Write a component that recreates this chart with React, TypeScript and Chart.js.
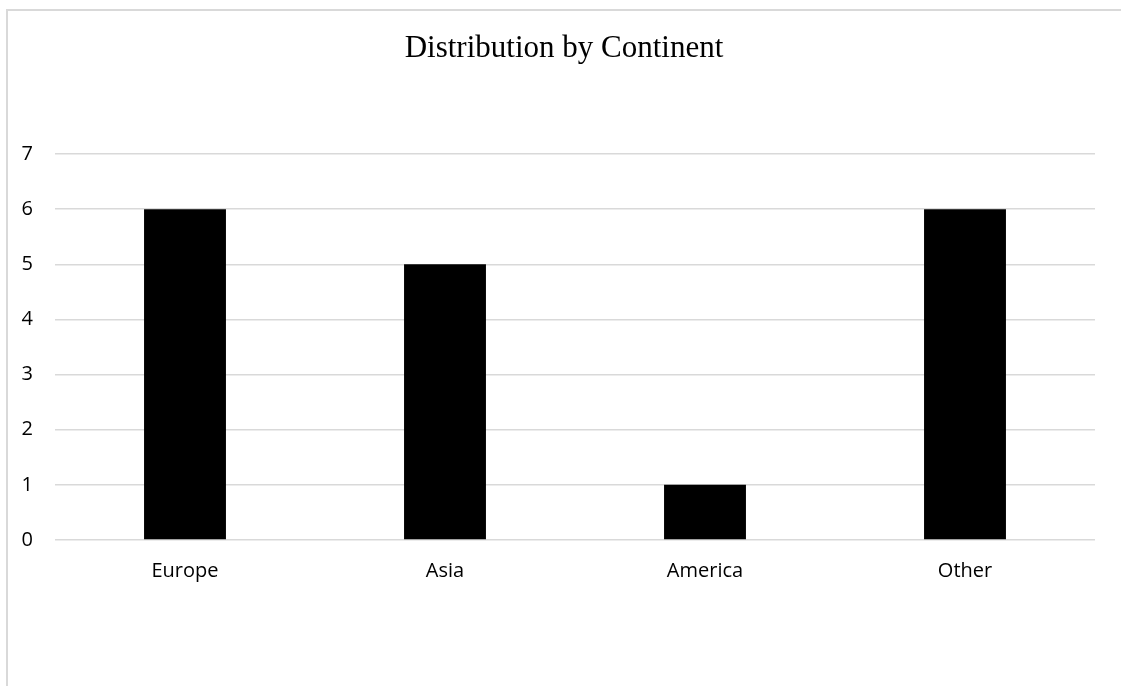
import React, { useEffect, useRef } from "react";
import { Chart, registerables } from "chart.js";

Chart.register(...registerables);

const categories = ["Europe", "Asia", "America", "Other"];
const counts = [6, 5, 1, 6];
const yTicks = [0, 1, 2, 3, 4, 5, 6, 7];
const titleText = "Distribution by Continent";

export default function App() {
  const ref = useRef<HTMLCanvasElement | null>(null);

  useEffect(() => {
    if (!ref.current) return;
    const chart = new Chart(ref.current, {
      type: "bar",
      data: {
        labels: categories,
        datasets: [
          {
            data: counts,
            backgroundColor: "#000000",
            borderWidth: 0,
            barPercentage: 0.315,
            categoryPercentage: 1,
          },
        ],
      },
      options: {
        animation: false,
        responsive: false,
        maintainAspectRatio: false,
        layout: { padding: { left: 7, right: 0, top: 0, bottom: 0 } },
        plugins: {
          legend: { display: false },
          tooltip: { enabled: false },
          title: {
            display: true,
            text: titleText,
            color: "#000000",
            font: { family: "'Liberation Serif', 'Times New Roman', serif", size: 31, weight: "normal" },
            padding: { top: 30, bottom: 86.8 },
          },
        },
        scales: {
          x: {
            grid: { display: false, drawTicks: false },
            border: { display: false },
            ticks: {
              color: "#000000",
              padding: 19,
              font: { family: "'Open Sans', sans-serif", size: 20 },
            },
            afterFit: (s: any) => {
              s.height = 146;
            },
          },
          y: {
            min: 0,
            max: 7,
            afterBuildTicks: (s: any) => {
              s.ticks = yTicks.map((v) => ({ value: v }));
            },
            grid: { color: "#d9d9d9", lineWidth: 1.5, drawTicks: false },
            border: { display: false },
            ticks: {
              color: "#000000",
              padding: 22,
              font: { family: "'Open Sans', sans-serif", size: 20 },
            },
            afterFit: (s: any) => {
              s.width = 48;
            },
          },
          yRight: {
            position: "right",
            display: true,
            grid: { display: false, drawTicks: false },
            border: { display: false },
            ticks: { display: false },
            afterFit: (s: any) => {
              s.width = 26;
            },
          },
        },
      } as any,
    });
    return () => chart.destroy();
  }, []);

  return (
    <div style={{ position: "fixed", left: 0, top: 0, width: 1121, height: 686, overflow: "hidden", background: "#ffffff" }}>
      <div
        style={{
          position: "absolute",
          left: 6,
          top: 9,
          width: 1200,
          height: 800,
          border: "2px solid #d9d9d9",
        }}
      />
      <canvas ref={ref} width={1121} height={686} style={{ position: "absolute", left: 0, top: 0 }} />
    </div>
  );
}
